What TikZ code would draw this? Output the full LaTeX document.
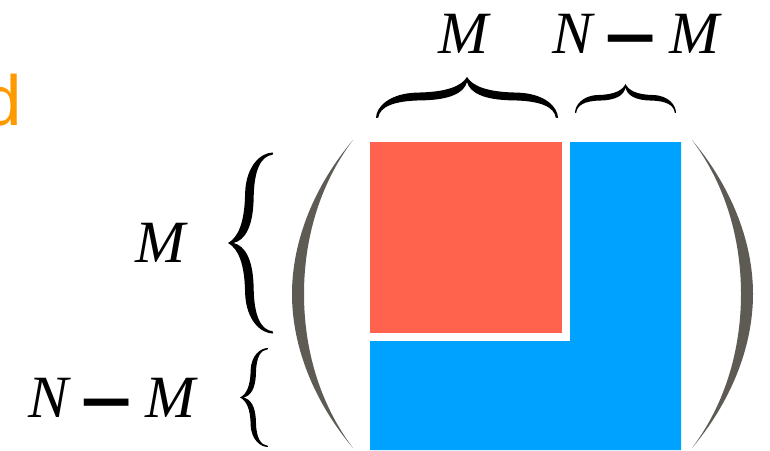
\documentclass[tikz,border=0pt]{standalone}
\usepackage{fontspec}
\setmainfont{Liberation Serif}
\newfontfamily\wordfont{Liberation Sans}
\usetikzlibrary{positioning}
\definecolor{blockred}{RGB}{255,99,78}
\definecolor{blockblue}{RGB}{0,162,255}
\definecolor{parengray}{RGB}{94,90,84}
\definecolor{wordorange}{RGB}{255,153,0}
\newcommand{\heavyminus}{\hspace{-4pt}\raisebox{3pt}{\scalebox{1.6}[2.4]{\raisebox{-0.25em}{\upshape −}}}\hspace{-4pt}}

\tikzset{
    curly/.pic={
        \fill (1,1) .. controls (0.74,1) and (0.40,0.86) .. (0.38,0.55)
            .. controls (0.37,0.22) and (0.22,0.06) .. (0,0)
            .. controls (0.22,-0.06) and (0.37,-0.22) .. (0.38,-0.55)
            .. controls (0.40,-0.86) and (0.74,-1) .. (1,-1)
            -- (0.99,-0.975)
            .. controls (0.74,-0.96) and (0.58,-0.82) .. (0.57,-0.50)
            .. controls (0.56,-0.18) and (0.38,-0.03) .. (0.12,0)
            .. controls (0.38,0.03) and (0.56,0.18) .. (0.57,0.50)
            .. controls (0.58,0.82) and (0.74,0.96) .. (0.99,0.975)
            -- cycle;
    }
}

\begin{document}
\begin{tikzpicture}[x=1pt,y=-1pt]
    \tikzstyle{lbl} = [inner sep=0, anchor=base,
        font=\fontsize{60}{60}\selectfont\itshape]
    \tikzstyle{paren} = [fill=parengray]
    \useasboundingbox (0,0) rectangle (770,450);
    \clip (0,0) rectangle (770,450);

    % word cut off at the left edge
    \node [anchor=base east, inner sep=0, text=wordorange,
        font=\wordfont\fontsize{71}{71}\selectfont] (word) at (22,125) {d};

    % blocks
    \fill [blockred] (370,142) rectangle (562,333);
    \fill [blockblue] (570,142) -- (681,142) -- (681,450) -- (370,450)
        -- (370,341) -- (570,341) -- cycle;

    % parentheses
    \path [paren] (353,140) .. controls (315,185) and (292,240) .. (292,294)
        .. controls (292,348) and (315,403) .. (353,448)
        .. controls (319,403) and (304,348) .. (304,294)
        .. controls (304,240) and (319,185) .. (353,140) -- cycle;
    \path [paren] (692,140) .. controls (730,185) and (753,240) .. (753,294)
        .. controls (753,348) and (730,403) .. (692,448)
        .. controls (726,403) and (741,348) .. (741,294)
        .. controls (741,240) and (726,185) .. (692,140) -- cycle;

    % braces
    \path (467,77) pic [x={(0pt,-41pt)}, y={(91pt,0pt)}] {curly};
    \path (625.5,84) pic [x={(0pt,-29pt)}, y={(50.5pt,0pt)}] {curly};
    \path (228,243) pic [x={(45pt,0pt)}, y={(0pt,90.5pt)}] {curly};
    \path (240,397.5) pic [x={(28pt,0pt)}, y={(0pt,49.5pt)}] {curly};

    % labels
    \node [lbl] (mtop) at (463,53) {M};
    \node [lbl] (nmtop) at (636,53) {N \heavyminus{} M};
    \node [lbl] (mleft) at (160,262) {M};
    \node [lbl] (nmleft) at (112,417) {N \heavyminus{} M};
\end{tikzpicture}
\end{document}
